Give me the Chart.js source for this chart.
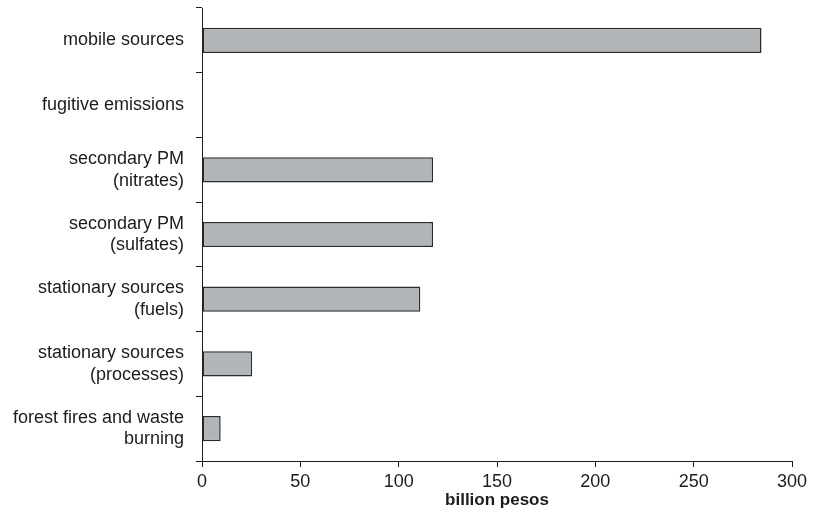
<!DOCTYPE html>
<html>
<head>
<meta charset="utf-8">
<script src="https://cdn.jsdelivr.net/npm/chart.js@4"></script>
<style>
  html, body { margin: 0; padding: 0; background: #fff; }
  #wrap { width: 813px; height: 514px; }
</style>
</head>
<body>
<div id="wrap"><canvas id="c" width="813" height="514"></canvas></div>
<script>
// Health-damage cost by emission source
const categories = [
  ["mobile sources"],
  ["fugitive emissions"],
  ["secondary PM", "(nitrates)"],
  ["secondary PM", "(sulfates)"],
  ["stationary sources", "(fuels)"],
  ["stationary sources", "(processes)"],
  ["forest fires and waste", "burning"]
];
const costs = [284.5, 0, 117.5, 117.5, 111, 25.5, 9.5];
const xTicks = [0, 50, 100, 150, 200, 250, 300];
const xTitle = "billion pesos";

const ink = "#1c1c1c";
const family = "'Liberation Sans', Arial, Helvetica, sans-serif";

new Chart(document.getElementById("c"), {
  type: "bar",
  data: {
    labels: categories,
    datasets: [{
      data: costs,
      backgroundColor: "#b2b5b8",
      borderColor: "#2b2b2b",
      borderWidth: 1.5,
      borderSkipped: false,
      categoryPercentage: 1,
      barPercentage: 0.39
    }]
  },
  options: {
    indexAxis: "y",
    responsive: false,
    animation: false,
    events: [],
    layout: { padding: { top: 8, right: 21, bottom: 0, left: 0 } },
    plugins: { legend: { display: false }, tooltip: { enabled: false } },
    scales: {
      x: {
        type: "linear",
        min: xTicks[0],
        max: xTicks[xTicks.length - 1],
        afterBuildTicks: s => { s.ticks = xTicks.map(v => ({ value: v })); },
        afterFit: s => { s.height = 53; },
        border: { display: true, color: ink, width: 1 },
        grid: { display: true, drawOnChartArea: false, drawTicks: true, tickLength: 6, color: ink, lineWidth: 1 },
        ticks: { color: ink, padding: 4, font: { family, size: 18 }, maxRotation: 0 },
        title: {
          display: true,
          text: xTitle,
          color: ink,
          padding: { top: 0, bottom: 3 },
          font: { family, size: 17, weight: "bold" }
        }
      },
      y: {
        type: "category",
        offset: true,
        afterFit: s => {
          s.width = 202;
          s.paddingTop = 0;
          s.paddingBottom = 0;
        },
        border: { display: true, color: ink, width: 1 },
        grid: { display: true, offset: true, drawOnChartArea: false, drawTicks: true, tickLength: 6, color: ink, lineWidth: 1 },
        ticks: { color: ink, padding: 12, font: { family, size: 18 } }
      }
    }
  }
});
</script>
</body>
</html>
